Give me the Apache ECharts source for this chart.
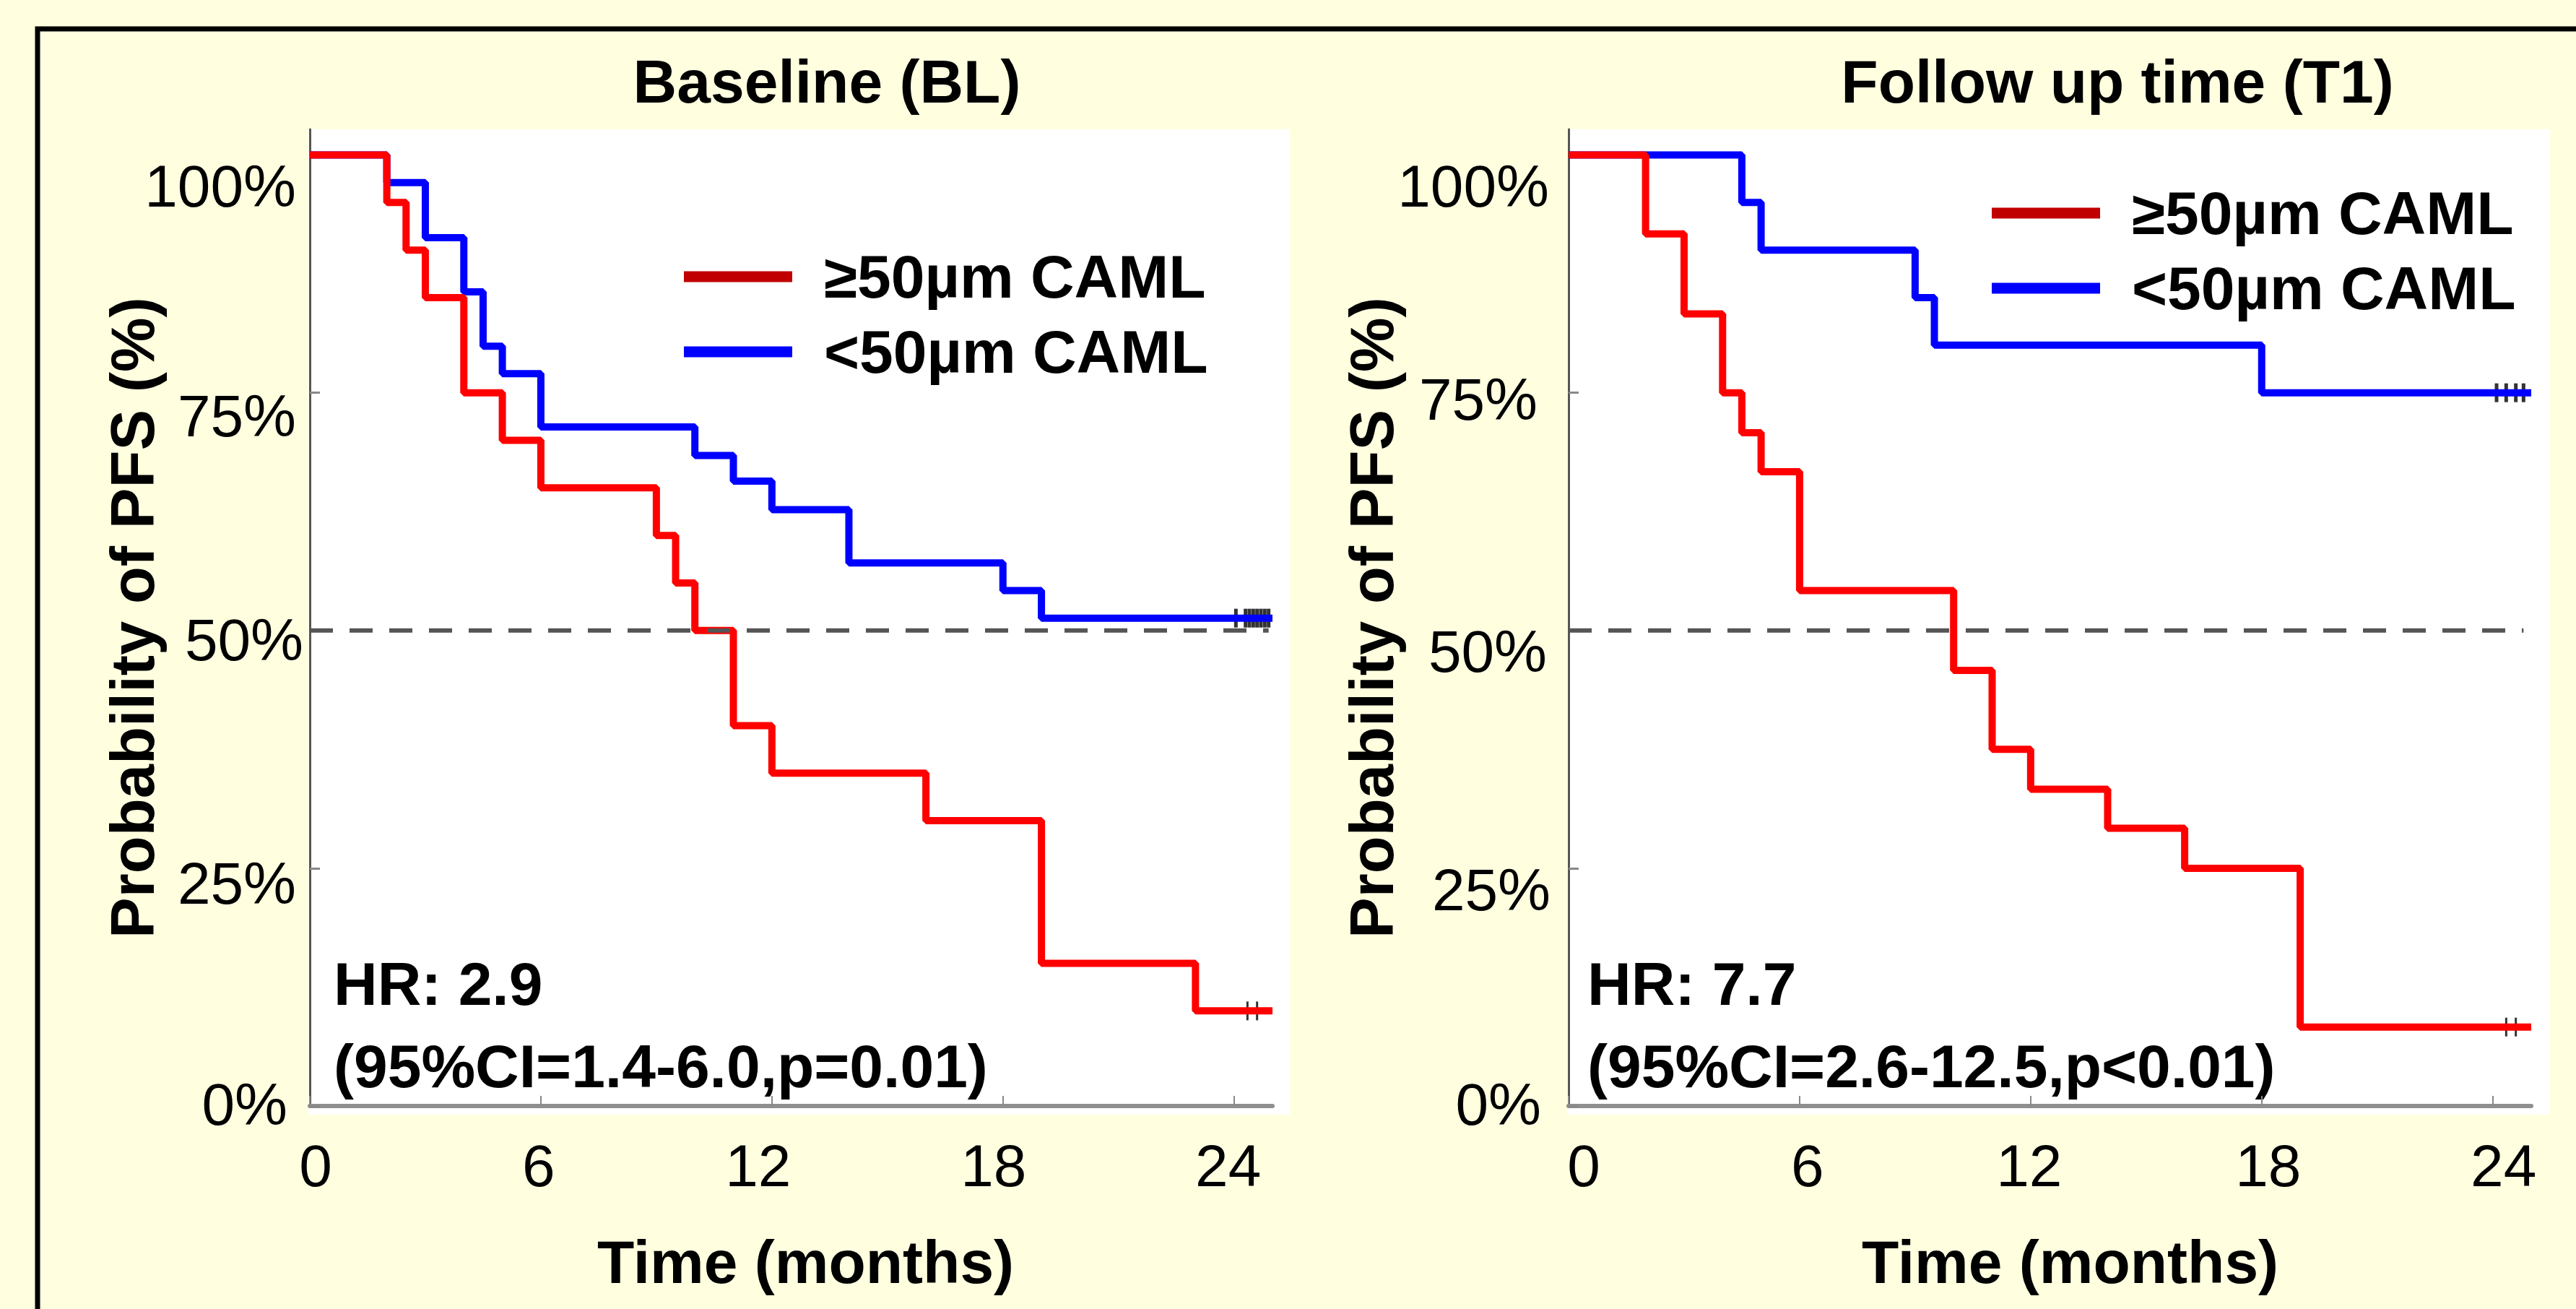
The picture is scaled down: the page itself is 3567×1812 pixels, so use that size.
<!DOCTYPE html>
<html>
<head>
<meta charset="utf-8">
<script src="https://cdn.jsdelivr.net/npm/echarts@6/dist/echarts.min.js"></script>
<style>
html, body { margin: 0; padding: 0; background: #FFFFE0; }
#chart { width: 3567px; height: 1812px; }
</style>
</head>
<body>
<div id="chart"></div>
<script>
// ---------------- DATA ----------------
const seriesNames = ['≥50µm CAML', '<50µm CAML'];
const panelTitles = ['Baseline (BL)', 'Follow up time (T1)'];
const hrLines = [
  ['HR: 2.9', '(95%CI=1.4-6.0,p=0.01)'],
  ['HR: 7.7', '(95%CI=2.6-12.5,p<0.01)']
];
const xTicks = [0, 6, 12, 18, 24];
const yTicks = [0, 25, 50, 75, 100];
const medianLevel = 50;

// Baseline (BL)
const blHighTime = [0, 2, 2.5, 3, 4, 5, 6, 9, 9.5, 10, 11, 12, 16, 19, 23, 25];
const blHighSurv = [100, 95, 90, 85, 75, 70, 65, 60, 55, 50, 40, 35, 30, 15, 10, 10];
const blLowTime = [0, 2, 3, 4, 4.5, 5, 6, 10, 11, 12, 14, 18, 19, 25];
const blLowSurv = [100, 97.1, 91.3, 85.6, 79.9, 77.0, 71.4, 68.4, 65.7, 62.7, 57.1, 54.2, 51.3, 51.3];
const blHighCensor = [24.35, 24.6];
const blLowCensor = [24.05, 24.3, 24.4, 24.5, 24.6, 24.7, 24.8, 24.9];

// Follow up time (T1)
const t1HighTime = [0, 2, 3, 4, 4.5, 5, 6, 10, 11, 12, 14, 16, 19, 25];
const t1HighSurv = [100, 91.7, 83.3, 75, 70.8, 66.7, 54.2, 45.8, 37.5, 33.3, 29.2, 25, 8.3, 8.3];
const t1LowTime = [0, 4.5, 5, 9, 9.5, 18, 25];
const t1LowSurv = [100, 95, 90, 85, 80, 75, 75];
const t1HighCensor = [24.35, 24.6];
const t1LowCensor = [24.1, 24.35, 24.6, 24.8];

// ---------------- STYLE / LAYOUT ----------------
const FONT = '"Liberation Sans", Arial, Helvetica, sans-serif';
const RED = '#FF0000', BLUE = '#0000FF', LEGEND_RED = '#C00000';

const panels = [
  { left: 429, axisRight: 1762, whiteRight: 1786,
    yOff: {100: 43, 75: 32, 50: 13, 25: 21, 0: -3}, yPad: {100: 10, 75: 10, 50: 0, 25: 10, 0: 22}, yMargin: 9,
    xOff: {0: 8, 6: -3, 12: -19, 18: -13, 24: -8},
    yNameGap: 203, xNamePad: 40, titleX: 1145, legendLeft: 947, legendTop: 341, hrX: 462, dashEnd: 24.9 },
  { left: 2172, axisRight: 3505, whiteRight: 3531,
    yOff: {100: 43, 75: 9, 50: 29, 25: 30, 0: -3}, yPad: {100: 2, 75: 18, 50: 5, 25: 0, 0: 13}, yMargin: 25,
    xOff: {0: 21, 6: 11, 12: -2, 18: 9, 24: 15},
    yNameGap: 230, xNamePad: 56, titleX: 2932, legendLeft: 2758, legendTop: 253, hrX: 2198, dashEnd: 24.8 }
];
const GRID_TOP = 179, GRID_BOTTOM = 1531, Y_MAX = 102.7;

const zip = (xs, ys) => xs.map((x, i) => [x, ys[i]]);
const curves = [
  { high: zip(blHighTime, blHighSurv), low: zip(blLowTime, blLowSurv),
    highC: blHighCensor.map(t => [t, blHighSurv[blHighSurv.length - 1]]),
    lowC: blLowCensor.map(t => [t, blLowSurv[blLowSurv.length - 1]]) },
  { high: zip(t1HighTime, t1HighSurv), low: zip(t1LowTime, t1LowSurv),
    highC: t1HighCensor.map(t => [t, t1HighSurv[t1HighSurv.length - 1]]),
    lowC: t1LowCensor.map(t => [t, t1LowSurv[t1LowSurv.length - 1]]) }
];

function yLabel(p) {
  const rich = {};
  yTicks.forEach(v => {
    const d = p.yOff[v], r = p.yPad[v];
    rich['v' + v] = { fontSize: 82, fontFamily: FONT, color: '#000',
      padding: d >= 0 ? [2 * d, r, 0, 0] : [0, r, -2 * d, 0] };
  });
  return { show: true, margin: p.yMargin, fontSize: 82, fontFamily: FONT, color: '#000', rich,
    customValues: yTicks,
    formatter: v => yTicks.indexOf(v) >= 0 ? '{v' + v + '|' + v + '%}' : '' };
}
function xLabel(p) {
  const rich = {};
  xTicks.forEach(v => {
    const d = p.xOff[v];
    rich['v' + v] = { fontSize: 82, fontFamily: FONT, color: '#000',
      padding: d >= 0 ? [0, 0, 0, 2 * d] : [0, -2 * d, 0, 0] };
  });
  return { show: true, margin: 41, fontSize: 82, fontFamily: FONT, color: '#000', rich,
    customValues: xTicks,
    formatter: v => xTicks.indexOf(v) >= 0 ? '{v' + v + '|' + v + '}' : '' };
}

const grids = [], xAxes = [], yAxes = [], series = [], legends = [], graphics = [];
panels.forEach((p, i) => {
  grids.push({ left: p.left, top: GRID_TOP, width: p.axisRight - p.left, height: GRID_BOTTOM - GRID_TOP,
    containLabel: false, show: false });
  xAxes.push({ type: 'value', gridIndex: i, min: 0, max: 25, interval: 6,
    name: 'Time (months)', nameLocation: 'middle', nameGap: 174, nameMoveOverlap: false,
    nameTextStyle: { fontSize: 84, fontWeight: 'bold', fontFamily: FONT, color: '#000', padding: [0, 0, 0, p.xNamePad] },
    axisLine: { show: true, onZero: false, lineStyle: { color: '#8f8f8f', width: 6 } },
    axisTick: { show: true, inside: true, length: 14, customValues: xTicks, lineStyle: { color: '#888', width: 2 } },
    axisLabel: xLabel(p), splitLine: { show: false } });
  yAxes.push({ type: 'value', gridIndex: i, min: 0, max: Y_MAX, interval: 25,
    name: 'Probability of PFS (%)', nameLocation: 'middle', nameGap: p.yNameGap, nameRotate: 90, nameMoveOverlap: false,
    nameTextStyle: { fontSize: 85, fontWeight: 'bold', fontFamily: FONT, color: '#000' },
    axisLine: { show: true, onZero: false, lineStyle: { color: '#555', width: 3 } },
    axisTick: { show: true, inside: true, length: 14, customValues: yTicks, lineStyle: { color: '#888', width: 3 } },
    axisLabel: yLabel(p), splitLine: { show: false } });

  const c = curves[i];
  series.push({ name: seriesNames[1], type: 'line', xAxisIndex: i, yAxisIndex: i, step: 'end',
    data: c.low, symbol: 'none', clip: false, lineStyle: { color: BLUE, width: 10 }, itemStyle: { color: BLUE } });
  series.push({ name: seriesNames[0], type: 'line', xAxisIndex: i, yAxisIndex: i, step: 'end',
    data: c.high, symbol: 'none', clip: false, lineStyle: { color: RED, width: 10 }, itemStyle: { color: RED } });
  series.push({ name: 'censor-low-' + i, type: 'scatter', xAxisIndex: i, yAxisIndex: i, data: c.lowC,
    symbol: 'rect', symbolSize: [5, 26], itemStyle: { color: '#000' }, silent: true, clip: false });
  series.push({ name: 'censor-high-' + i, type: 'scatter', xAxisIndex: i, yAxisIndex: i, data: c.highC,
    symbol: 'rect', symbolSize: [3, 26], itemStyle: { color: '#000' }, silent: true, clip: false });
  series.push({ name: 'median-' + i, type: 'line', xAxisIndex: i, yAxisIndex: i,
    data: [[0, medianLevel], [p.dashEnd, medianLevel]], symbol: 'none', silent: true,
    lineStyle: { color: '#555', width: 6, type: [32, 23] } });

  legends.push({ orient: 'vertical', left: p.legendLeft, top: p.legendTop, padding: 0,
    itemWidth: 150, itemHeight: 15, itemGap: 20, icon: 'rect', selectedMode: false,
    itemStyle: { borderWidth: 0 },
    data: [{ name: seriesNames[0], itemStyle: { color: LEGEND_RED } }, { name: seriesNames[1], itemStyle: { color: BLUE } }],
    formatter: n => '{p|}' + n,
    textStyle: { fontSize: 84, fontWeight: 'bold', fontFamily: FONT, color: '#000', rich: { p: { width: 39 } } } });

  graphics.push({ type: 'rect', z: -1, silent: true,
    shape: { x: p.left - 2, y: GRID_TOP, width: p.whiteRight - p.left + 2, height: 1364 }, style: { fill: '#FFFFFF' } });
  graphics.push({ type: 'text', x: p.titleX, y: 113, silent: true,
    style: { text: panelTitles[i], font: 'bold 84px ' + FONT, fill: '#000',
      textAlign: 'center', textVerticalAlign: 'middle', align: 'center', verticalAlign: 'middle' } });
  graphics.push({ type: 'text', x: p.hrX, y: 1362, silent: true,
    style: { text: hrLines[i][0], font: 'bold 84px ' + FONT, fill: '#000',
      textAlign: 'left', textVerticalAlign: 'middle', align: 'left', verticalAlign: 'middle' } });
  graphics.push({ type: 'text', x: p.hrX, y: 1476, silent: true,
    style: { text: hrLines[i][1], font: 'bold 84px ' + FONT, fill: '#000',
      textAlign: 'left', textVerticalAlign: 'middle', align: 'left', verticalAlign: 'middle' } });
});
graphics.push({ type: 'rect', silent: true, shape: { x: 52, y: 40, width: 3600, height: 1900 },
  style: { fill: 'none', stroke: '#000', lineWidth: 7 } });

const chart = echarts.init(document.getElementById('chart'), null, { renderer: 'svg' });
chart.setOption({
  backgroundColor: '#FFFFE0',
  animation: false,
  textStyle: { fontFamily: FONT },
  grid: grids, xAxis: xAxes, yAxis: yAxes, series, legend: legends, graphic: graphics
});
</script>
</body>
</html>
